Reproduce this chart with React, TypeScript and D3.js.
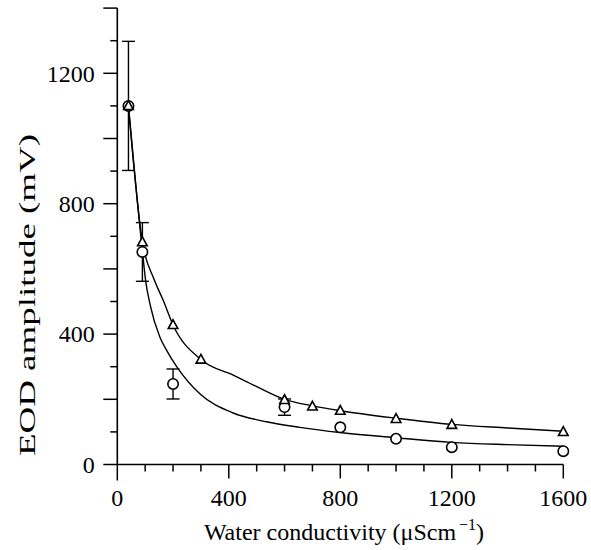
import React from "react";
import * as d3 from "d3";

// Triangles (series A)
const triX = [40, 90, 200, 300, 600, 700, 800, 1000, 1200, 1600];
const triY = [1100, 682, 428, 322, 198, 178, 165, 140, 122, 100];
// Circles (series B) with error bars
const circX = [40, 90, 200, 600, 800, 1000, 1200, 1600];
const circY = [1100, 652, 247, 176, 114, 79, 53, 41];
const circErr = [198, 90, 46, 25, 0, 0, 0, 0];
// Fitted curves
const fitTriX = [40, 90, 130, 165, 200, 300, 416, 500, 600, 700, 800, 1000, 1200, 1400, 1600];
const fitTriY = [1100, 682, 572, 503, 428, 322, 274, 239, 200, 180, 165, 142, 123, 112, 102];
const fitCircX = [40, 90, 102, 117, 153, 177, 213, 297, 416, 535, 655, 800, 1000, 1200, 1400, 1600];
const fitCircY = [1100, 655, 562, 493, 390, 350, 300, 216, 158, 131, 114, 98, 82, 68, 61, 56];

const xTickLabels = [0, 400, 800, 1200, 1600];
const yTickLabels = [0, 400, 800, 1200];
const xMinor = d3.range(0, 1601, 100);
const yMinor = d3.range(0, 1401, 100);

const FONT = "'Liberation Serif', 'Times New Roman', Times, serif";

export default function App() {
  const x = d3.scaleLinear().domain([0, 1600]).range([117.3, 563.3]);
  const y = d3.scaleLinear().domain([0, 1400]).range([464.5, 8.1]);

  const line = d3
    .line<[number, number]>()
    .x((d) => x(d[0]))
    .y((d) => y(d[1]))
    .curve(d3.curveMonotoneX);

  const upper = line(fitTriX.map((v, i) => [v, fitTriY[i]] as [number, number])) || "";
  const lower = line(fitCircX.map((v, i) => [v, fitCircY[i]] as [number, number])) || "";

  const x0 = x(0);
  const y0 = y(0);

  const tri = (cx: number, cy: number) =>
    `M${cx},${cy - 5.2}L${cx + 4.8},${cy + 3.6}L${cx - 4.8},${cy + 3.6}Z`;

  return (
    <svg
      width={591}
      height={550}
      style={{ position: "absolute", left: 0, top: 0, background: "#fff" }}
      fontFamily={FONT}
    >
      <rect x={0} y={0} width={591} height={550} fill="#fff" />
      {/* axes */}
      <line x1={x0} x2={x0} y1={y(1400)} y2={y0} stroke="#000" strokeWidth={1.6} />
      <line x1={x0} x2={x(1600)} y1={y0} y2={y0} stroke="#000" strokeWidth={1.6} />
      {/* y ticks */}
      {yMinor.map((v) => {
        const len = v % 200 === 0 ? 14 : 7;
        return (
          <line key={"yt" + v} x1={x0 - len} x2={x0} y1={y(v)} y2={y(v)} stroke="#000" strokeWidth={1.5} />
        );
      })}
      {/* x ticks */}
      {xMinor.map((v) => {
        const len = v % 400 === 0 ? (v === 0 ? 16 : 14) : 7;
        return (
          <line key={"xt" + v} x1={x(v)} x2={x(v)} y1={y0} y2={y0 + len} stroke="#000" strokeWidth={1.5} />
        );
      })}
      {yTickLabels.map((v) => (
        <text key={"yl" + v} x={x0 - 22.5} y={y(v) + 8.3} textAnchor="end" fontSize={24} fill="#000">
          {v}
        </text>
      ))}
      {xTickLabels.map((v) => (
        <text key={"xl" + v} x={x(v)} y={506} textAnchor="middle" fontSize={24} fill="#000">
          {v}
        </text>
      ))}
      {/* axis titles */}
      <text x={344} y={540} textAnchor="middle" fontSize={24} fill="#000">
        Water conductivity (μScm
        <tspan fontSize={16} dy={-10} dx={3}>−1</tspan>
        <tspan dy={10}>)</tspan>
      </text>
      <text
        transform="translate(35,295) rotate(-90)"
        textAnchor="middle"
        fontSize={24}
        textLength={322}
        lengthAdjust="spacingAndGlyphs"
        fill="#000"
      >
        EOD amplitude (mV)
      </text>
      {/* fitted curves */}
      <path d={upper} fill="none" stroke="#000" strokeWidth={1.4} />
      <path d={lower} fill="none" stroke="#000" strokeWidth={1.4} />
      {/* error bars */}
      {circX.map((v, i) =>
        circErr[i] > 0 ? (
          <g key={"eb" + i} stroke="#000" strokeWidth={1.4}>
            <line x1={x(v)} x2={x(v)} y1={y(circY[i] + circErr[i])} y2={y(circY[i] - circErr[i])} />
            <line x1={x(v) - 6.5} x2={x(v) + 6.5} y1={y(circY[i] + circErr[i])} y2={y(circY[i] + circErr[i])} />
            <line x1={x(v) - 6.5} x2={x(v) + 6.5} y1={y(circY[i] - circErr[i])} y2={y(circY[i] - circErr[i])} />
          </g>
        ) : null
      )}
      {/* markers */}
      {circX.map((v, i) => (
        <circle key={"c" + i} cx={x(v)} cy={y(circY[i])} r={5.2} fill="#fff" stroke="#000" strokeWidth={1.6} />
      ))}
      {triX.map((v, i) => (
        <path key={"t" + i} d={tri(x(v), y(triY[i]))} fill="#fff" stroke="#000" strokeWidth={1.6} />
      ))}
    </svg>
  );
}
